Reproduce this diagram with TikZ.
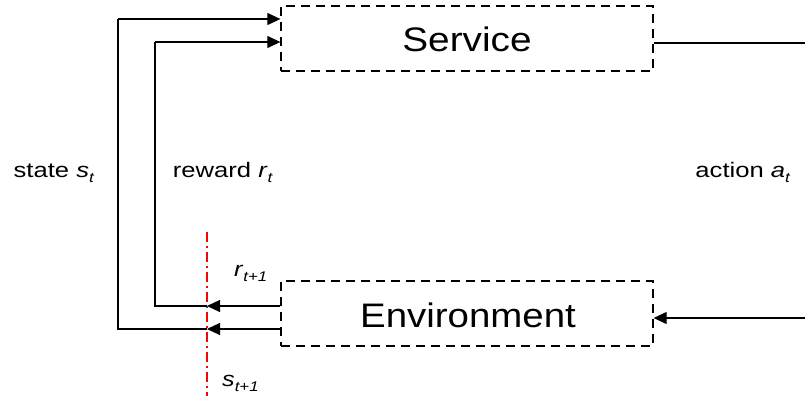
\documentclass[tikz,border=0pt]{standalone}
\usepackage{fontspec}
\usepackage{graphicx}
\setmainfont{Liberation Sans}
\usetikzlibrary{arrows.meta}
% horizontally widened text
\newcommand{\widetext}[2]{\scalebox{#1}[1]{#2}}
\newcommand{\sublabel}[2]{\textit{#1}\raisebox{-5pt}{\fontsize{14}{14}\selectfont\textit{#2}}}
\begin{document}
\begin{tikzpicture}[x=1pt,y=-1pt,
  blockbox/.style={draw,dash pattern=on 9pt off 6pt,line width=1.3pt,minimum width=372pt,minimum height=65pt,inner sep=0pt},
  blocktext/.style={anchor=base,inner sep=0pt,font=\fontsize{34}{34}\selectfont},
  link/.style={line width=1.2pt},
  tip/.style={line width=1.2pt,-{Triangle[length=13pt,width=12pt]}},
  lbl/.style={anchor=base,font=\fontsize{21}{21}\selectfont,inner sep=0pt},
  sublbl/.style={anchor=base west,font=\fontsize{21}{21}\selectfont,inner sep=0pt}]
\useasboundingbox (0,0) rectangle (805,398);
% blocks
\node[blockbox] (svc) at (467,38.5) {};
\node[blockbox] (env) at (467,313.5) {};
\node[blocktext] (svct) at (467,52) {\widetext{1.14}{Service}};
\node[blocktext] (envt) at (468,327) {\widetext{1.13}{Environment}};
% corner points of the feedback paths
\coordinate (s1) at (118,19);
\coordinate (r1) at (155,42);
\coordinate (s2) at (118,329);
\coordinate (r2) at (155,306);
\coordinate (sm) at (207,329);
\coordinate (rm) at (207,306);
\coordinate (aout) at (805,43);
\coordinate (ain) at (805,318);
% observation cut
\draw[red,line width=1.3pt,dash pattern=on 10pt off 4pt on 2pt off 4pt] (207,232) -- (207,396);
% state and reward returned by the environment
\draw[tip] (env.west |- sm) -- (sm);
\draw[tip] (env.west |- rm) -- (rm);
\draw[link] (sm) -- (s2) -- (s1);
\draw[link] (rm) -- (r2) -- (r1);
\draw[tip] (s1) -- (svc.west |- s1);
\draw[tip] (r1) -- (svc.west |- r1);
% action path
\draw[link] (svc.east |- aout) -- (aout);
\draw[tip] (ain) -- (env.east |- ain);
% labels
\node[lbl] (ls) at (54,178) {\widetext{1.22}{state \sublabel{s}{t}}};
\node[lbl] (lr) at (223,178) {\widetext{1.22}{reward \sublabel{r}{t}}};
\node[lbl] (la) at (743,178) {\widetext{1.22}{action \sublabel{a}{t}}};
\node[sublbl] (lr1) at (234,276) {\widetext{1.2}{\sublabel{r}{t+1}}};
\node[sublbl] (ls1) at (222,386) {\widetext{1.2}{\sublabel{s}{t+1}}};
\end{tikzpicture}
\end{document}
